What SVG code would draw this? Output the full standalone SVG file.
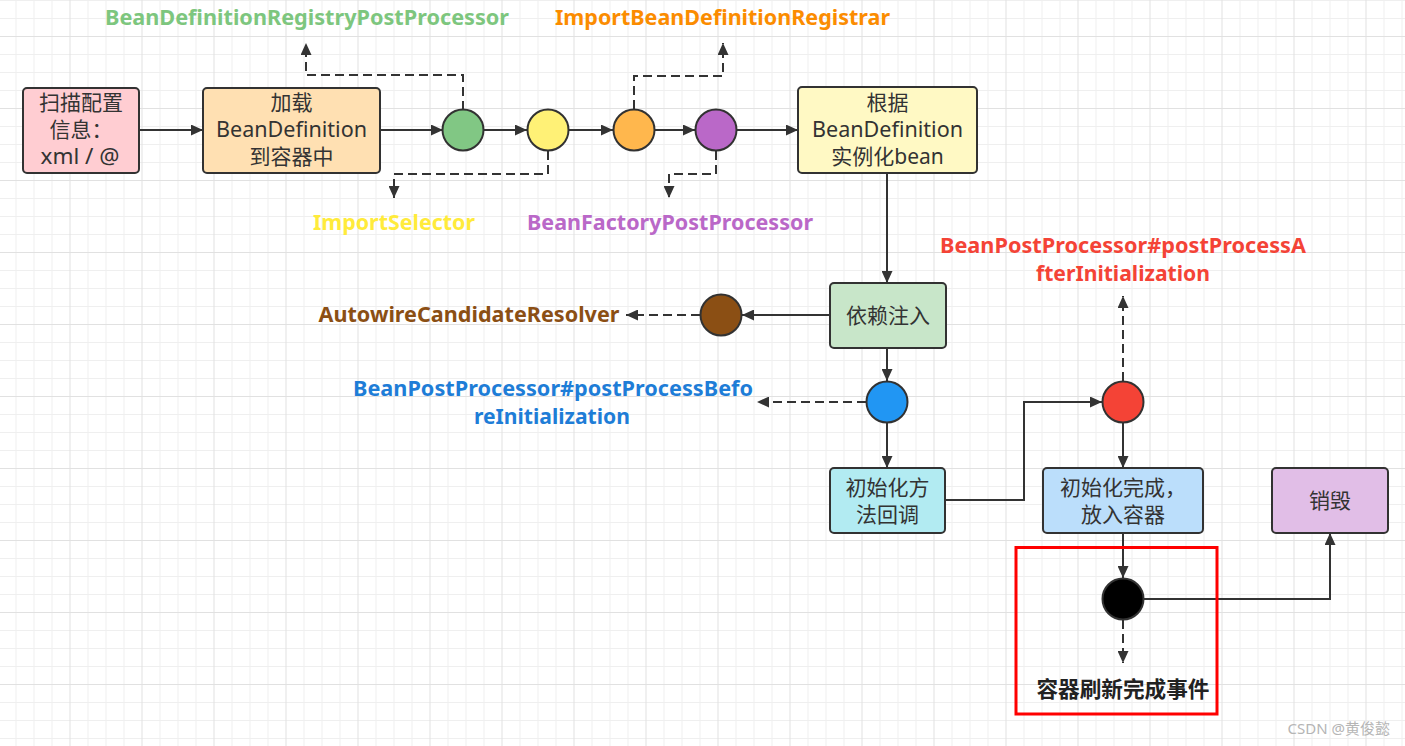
<svg xmlns="http://www.w3.org/2000/svg" width="1405" height="746" viewBox="0 0 1405 746">
<defs>
<pattern id="grid" x="-2.5" y="-36" width="72" height="72" patternUnits="userSpaceOnUse">
<rect width="72" height="72" fill="#ffffff"/>
<path d="M18.5,0 V72 M36.5,0 V72 M54.5,0 V72 M0,18.5 H72 M0,36.5 H72 M0,54.5 H72" stroke="#efefef" stroke-width="1"/>
<path d="M0.5,0 V72 M0,0.5 H72" stroke="#e1e1e1" stroke-width="1"/>
</pattern>
<marker id="arr" markerWidth="12" markerHeight="11" refX="12" refY="5.5" orient="auto" markerUnits="userSpaceOnUse">
<path d="M0,0 L12,5.5 L0,11 z" fill="#333"/>
</marker>
<style>
.node{stroke:#323232;stroke-width:2}
.t{font-family:'Noto Sans','Noto Sans CJK SC',sans-serif;font-size:21px;fill:#333;text-anchor:middle}
.lbl{font-family:'Noto Sans','Noto Sans CJK SC',sans-serif;font-size:22px;font-weight:bold;text-anchor:middle}
.c{stroke:#333;stroke-width:2;fill:none}
.d{stroke:#333;stroke-width:2;fill:none;stroke-dasharray:9 5}
</style>
</defs>
<rect width="1405" height="746" fill="url(#grid)"/>

<g id="connectors">
<path class="c" d="M139,130 H203" marker-end="url(#arr)"/>
<path class="c" d="M380,130 H443" marker-end="url(#arr)"/>
<path class="c" d="M484,130 H527" marker-end="url(#arr)"/>
<path class="c" d="M569,130 H613" marker-end="url(#arr)"/>
<path class="c" d="M655,130 H695" marker-end="url(#arr)"/>
<path class="c" d="M737,130 H798" marker-end="url(#arr)"/>
<path class="d" d="M463,110 V75 H306 V43" marker-end="url(#arr)"/>
<path class="d" d="M548,151 V174 H394 V198" marker-end="url(#arr)"/>
<path class="d" d="M634,109 V76 H723 V43" marker-end="url(#arr)"/>
<path class="d" d="M716,151 V174 H669 V198" marker-end="url(#arr)"/>
<path class="c" d="M887,173 V283" marker-end="url(#arr)"/>
<path class="c" d="M830,315 H742" marker-end="url(#arr)"/>
<path class="d" d="M700,315 H626" marker-end="url(#arr)"/>
<path class="c" d="M887,348 V381" marker-end="url(#arr)"/>
<path class="d" d="M866,402 H757" marker-end="url(#arr)"/>
<path class="c" d="M887,423 V468" marker-end="url(#arr)"/>
<path class="c" d="M945,500 H1024 V402 H1102" marker-end="url(#arr)"/>
<path class="d" d="M1123,381 V296" marker-end="url(#arr)"/>
<path class="c" d="M1123,423 V468" marker-end="url(#arr)"/>
<path class="c" d="M1123,533 V578" marker-end="url(#arr)"/>
<path class="d" d="M1123,620 V663" marker-end="url(#arr)"/>
<path class="c" d="M1144,599 H1330 V533" marker-end="url(#arr)"/>
</g>

<g id="scan">
<rect class="node" x="23" y="88" width="116" height="85" rx="4" fill="#FFCDD2"/>
<text class="t" x="81" y="110">扫描配置</text>
<text class="t" x="81" y="137">信息：</text>
<text class="t" x="80" y="164" textLength="79" lengthAdjust="spacingAndGlyphs">xml / @</text>
</g>
<g id="load">
<rect class="node" x="203" y="88" width="177" height="85" rx="4" fill="#FFE0B2"/>
<text class="t" x="291.5" y="110">加载</text>
<text class="t" x="291.5" y="137" textLength="151" lengthAdjust="spacingAndGlyphs">BeanDefinition</text>
<text class="t" x="291.5" y="164">到容器中</text>
</g>
<g id="c-green"><circle cx="463" cy="130" r="20.5" fill="#81C784" class="node"/></g>
<g id="c-yellow"><circle cx="548" cy="130" r="20.5" fill="#FFF176" class="node"/></g>
<g id="c-orange"><circle cx="634" cy="130" r="20.5" fill="#FFB74D" class="node"/></g>
<g id="c-purple"><circle cx="716" cy="130" r="20.5" fill="#BA68C8" class="node"/></g>
<g id="instantiate">
<rect class="node" x="798" y="87" width="179" height="86" rx="4" fill="#FFF9C4"/>
<text class="t" x="887.5" y="110">根据</text>
<text class="t" x="887.5" y="137" textLength="151" lengthAdjust="spacingAndGlyphs">BeanDefinition</text>
<text class="t" x="887.5" y="164">实例化bean</text>
</g>
<g id="inject">
<rect class="node" x="830" y="283" width="116" height="65" rx="4" fill="#C8E6C9"/>
<text class="t" x="888" y="323">依赖注入</text>
</g>
<g id="c-brown"><circle cx="721" cy="315" r="20.5" fill="#8B4F14" class="node"/></g>
<g id="c-blue"><circle cx="887" cy="402" r="20.5" fill="#2196F3" class="node"/></g>
<g id="c-red"><circle cx="1123" cy="402" r="20.5" fill="#F44336" class="node"/></g>
<g id="init-callback">
<rect class="node" x="830" y="468" width="115" height="65" rx="4" fill="#B2EBF2"/>
<text class="t" x="887.5" y="495">初始化方</text>
<text class="t" x="887.5" y="522">法回调</text>
</g>
<g id="init-done">
<rect class="node" x="1043" y="468" width="160" height="65" rx="4" fill="#BBDEFB"/>
<text class="t" x="1123" y="495">初始化完成，</text>
<text class="t" x="1123" y="522">放入容器</text>
</g>
<g id="destroy">
<rect class="node" x="1272" y="468" width="116" height="65" rx="4" fill="#E1BEE7"/>
<text class="t" x="1330" y="508">销毁</text>
</g>
<g id="c-black"><circle cx="1123" cy="599" r="20.5" fill="#000000" class="node"/></g>

<g id="labels">
<text class="lbl" x="307" y="25" fill="#7DC67E" textLength="404" lengthAdjust="spacingAndGlyphs">BeanDefinitionRegistryPostProcessor</text>
<text class="lbl" x="722.5" y="25" fill="#FB8C00" textLength="335" lengthAdjust="spacingAndGlyphs">ImportBeanDefinitionRegistrar</text>
<text class="lbl" x="394" y="230" fill="#FFEB3B" textLength="162" lengthAdjust="spacingAndGlyphs">ImportSelector</text>
<text class="lbl" x="670" y="230" fill="#BA68C8" textLength="286" lengthAdjust="spacingAndGlyphs">BeanFactoryPostProcessor</text>
<text class="lbl" x="469" y="322" fill="#8B4F14" textLength="301" lengthAdjust="spacingAndGlyphs">AutowireCandidateResolver</text>
<text class="lbl" x="553" y="396" fill="#1E7DD7" textLength="400" lengthAdjust="spacingAndGlyphs">BeanPostProcessor#postProcessBefo</text>
<text class="lbl" x="552" y="424" fill="#1E7DD7" textLength="156" lengthAdjust="spacingAndGlyphs">reInitialization</text>
<text class="lbl" x="1123" y="253" fill="#F44336" textLength="366" lengthAdjust="spacingAndGlyphs">BeanPostProcessor#postProcessA</text>
<text class="lbl" x="1123" y="281" fill="#F44336" textLength="174" lengthAdjust="spacingAndGlyphs">fterInitialization</text>
</g>

<g id="highlight">
<rect x="1016" y="547.5" width="201" height="166.5" fill="none" stroke="#FF0000" stroke-width="3"/>
<text class="lbl" x="1123" y="697" fill="#222" textLength="173" lengthAdjust="spacingAndGlyphs">容器刷新完成事件</text>
</g>
<text x="1390" y="734" font-family="'Noto Sans','Noto Sans CJK SC',sans-serif" font-size="15" fill="#b5b5b5" text-anchor="end">CSDN @黄俊懿</text>
</svg>
